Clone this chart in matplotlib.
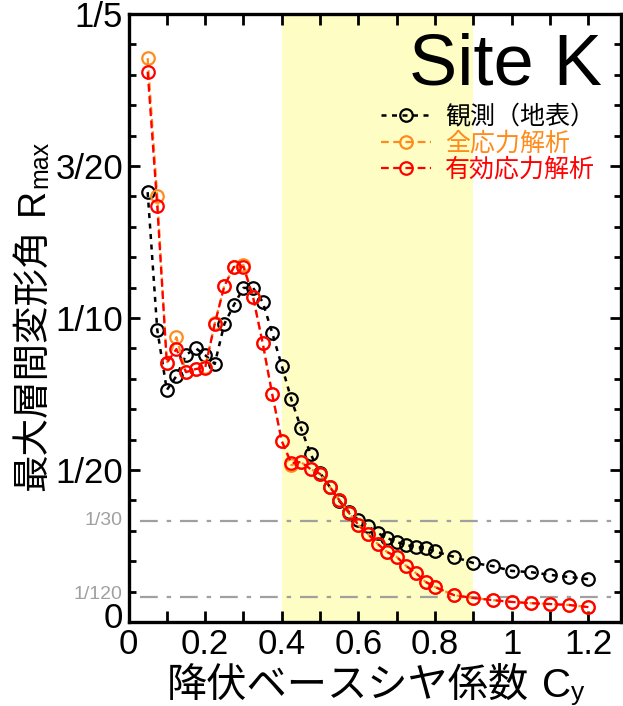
import matplotlib
matplotlib.use("Agg")
import matplotlib.pyplot as plt
import numpy as np
from matplotlib.ticker import MultipleLocator, FixedLocator, FixedFormatter
from matplotlib.lines import Line2D

plt.rcParams['font.family'] = ['Liberation Sans', 'Noto Sans CJK JP', 'DejaVu Sans']

# ---- data ----
cy = [0.05, 0.075, 0.1, 0.125, 0.15, 0.175, 0.2, 0.225, 0.25, 0.275, 0.3, 0.325,
      0.35, 0.375, 0.4, 0.425, 0.45, 0.475, 0.5, 0.525, 0.55, 0.575, 0.6, 0.625,
      0.65, 0.675, 0.7, 0.725, 0.75, 0.775, 0.8, 0.85, 0.9, 0.95, 1.0, 1.05, 1.1,
      1.15, 1.2]
observed = [0.1414, 0.0962, 0.0763, 0.0809, 0.0878, 0.0901, 0.0878, 0.0849, 0.0980,
            0.1043, 0.1099, 0.1099, 0.1053, 0.0951, 0.0842, 0.0732, 0.0638, 0.0553,
            0.0490, 0.0445, 0.0398, 0.0362, 0.0336, 0.0316, 0.0293, 0.0276, 0.0263,
            0.0253, 0.0247, 0.0243, 0.0232, 0.0214, 0.0194, 0.0184, 0.0168, 0.0164,
            0.0155, 0.0148, 0.0141]
total_stress = [0.1855, 0.1400, 0.0852, 0.0937, 0.0822, 0.0832, 0.0838, 0.0982, 0.1105,
                0.1168, 0.1174, 0.1069, 0.0918, 0.0749, 0.0595, 0.0516, 0.0526, 0.0503,
                0.0487, 0.0445, 0.0401, 0.0359, 0.0319, 0.0289, 0.0257, 0.0230, 0.0214,
                0.0184, 0.0161, 0.0132, 0.0115, 0.0088, 0.0079, 0.0072, 0.0066, 0.0062,
                0.0059, 0.0056, 0.0049]
effective_stress = [0.1810, 0.1368, 0.0852, 0.0898, 0.0822, 0.0832, 0.0836, 0.0980, 0.1105,
                    0.1168, 0.1168, 0.1069, 0.0918, 0.0749, 0.0595, 0.0523, 0.0526, 0.0503,
                    0.0487, 0.0445, 0.0401, 0.0359, 0.0319, 0.0289, 0.0257, 0.0230, 0.0214,
                    0.0184, 0.0161, 0.0132, 0.0115, 0.0088, 0.0079, 0.0072, 0.0066, 0.0062,
                    0.0059, 0.0056, 0.0049]
series_labels = ['観測（地表）', '全応力解析', '有効応力解析']
ytick_vals = [0, 0.05, 0.10, 0.15, 0.20]
ytick_labels = ['', '1/20', '1/10', '3/20', '1/5']
xtick_vals = [0, 0.2, 0.4, 0.6, 0.8, 1.0, 1.2]
xtick_labels = ['0', '0.2', '0.4', '0.6', '0.8', '1', '1.2']
ref_vals = [1/30, 1/120]
ref_labels = ['1/30', '1/120']
band = (0.4, 0.9)
xlabel_parts = ['降伏ベースシヤ係数', 'C', 'y']
ylabel_parts = ['最大層間変形角', 'R', 'max']

W, H = 623, 706
fig = plt.figure(figsize=(W/100, H/100), dpi=100)
ax = fig.add_axes([128.5/W, 1-622/H, (621-128.5)/W, (622-14)/H])

ax.axvspan(band[0], band[1], color='#FDFDC4', zorder=0, lw=0)

for v in ref_vals:
    ax.plot([0.03, 1.285], [v, v], color='#A0A0A0', lw=1.6,
            dashes=(8, 4, 2, 4), zorder=1)

ms = 9
ax.plot(cy, observed, ls=(0, (2, 2.2)), color='black', lw=1.8, marker='o',
        mfc='none', mec='black', mew=1.6, ms=ms, zorder=3)
ax.plot(cy, total_stress, ls=(0, (3.5, 2)), color='#FF8C1A', lw=1.6, marker='o',
        mfc='none', mec='#FF8C1A', mew=1.6, ms=ms, zorder=4)
ax.plot(cy, effective_stress, ls=(0, (3.5, 2)), color='#FF0000', lw=1.6, marker='o',
        mfc='none', mec='#FF0000', mew=1.6, ms=ms, zorder=5)

ax.set_xlim(0, 1.285)
ax.set_ylim(0, 0.2)

ax.xaxis.set_major_locator(FixedLocator(xtick_vals))
ax.xaxis.set_major_formatter(FixedFormatter(xtick_labels))
ax.xaxis.set_minor_locator(MultipleLocator(0.1))
ax.yaxis.set_major_locator(FixedLocator(ytick_vals))
ax.yaxis.set_major_formatter(FixedFormatter(ytick_labels))
ax.yaxis.set_minor_locator(MultipleLocator(0.01))

ax.tick_params(which='both', direction='in', top=True, right=True, width=2.0)
ax.tick_params(which='major', length=8, labelsize=25, pad=4)
ax.tick_params(axis='x', which='minor', length=8)
ax.tick_params(axis='y', which='minor', length=5)
for s in ax.spines.values():
    s.set_linewidth(2.4)

# zero label on y placed slightly above the axis, as in the reference
ax.text(-0.012, 0.0012, '0', transform=ax.get_yaxis_transform(), ha='right',
        va='center', fontsize=25)

ref_shift = [0.0, 0.0006]
for v, lab, sh in zip(ref_vals, ref_labels, ref_shift):
    ax.text(-0.012, v + sh, lab, transform=ax.get_yaxis_transform(), ha='right',
            va='center', fontsize=14, color='#A0A0A0')

ax.text(0.962, 0.97, 'Site K', transform=ax.transAxes, ha='right', va='top',
        fontsize=52)

handles = [
    Line2D([], [], ls=(0, (2, 2.2)), color='black', lw=1.8, marker='o', mfc='none', mew=1.6, ms=ms),
    Line2D([], [], ls=(0, (3.5, 2)), color='#FF8C1A', lw=1.6, marker='o', mfc='none', mew=1.6, ms=ms),
    Line2D([], [], ls=(0, (3.5, 2)), color='#FF0000', lw=1.6, marker='o', mfc='none', mew=1.6, ms=ms),
]
leg = ax.legend(handles, series_labels, loc='upper left',
                bbox_to_anchor=(381/W, 1-105/H), bbox_transform=fig.transFigure,
                frameon=False, fontsize=18, handlelength=2.0, handletextpad=0.55,
                labelspacing=0.1, borderaxespad=0, borderpad=0)
for t, c in zip(leg.get_texts(), ['black', '#FF8C1A', '#FF0000']):
    t.set_color(c)

# ---- composite axis labels (CJK + Latin with subscript) ----
fig.canvas.draw()
r = fig.canvas.get_renderer()

# x label
fx_main, fx_sub = 29, 19
jx = fig.text(0, 0, xlabel_parts[0], fontsize=fx_main, ha='left', va='baseline')
cx_ = fig.text(0, 0, xlabel_parts[1], fontsize=fx_main, ha='left', va='baseline')
sx = fig.text(0, 0, xlabel_parts[2], fontsize=fx_sub, ha='left', va='baseline')
w1 = jx.get_window_extent(r).width
w2 = cx_.get_window_extent(r).width
w3 = sx.get_window_extent(r).width
gap = 13
total = w1 + gap + w2 + w3
x0 = 375.5 - total/2
base = 9
jx.set_position((x0/W, base/H))
cx_.set_position(((x0 + w1 + gap)/W, base/H))
sx.set_position(((x0 + w1 + gap + w2)/W, (base - 3)/H))

# y label (rotated)
fy_main, fy_sub = 27, 18
jy = fig.text(0, 0, ylabel_parts[0], fontsize=fy_main, ha='left', va='baseline',
              rotation=90, rotation_mode='anchor')
ry = fig.text(0, 0, ylabel_parts[1], fontsize=fy_main, ha='left', va='baseline',
              rotation=90, rotation_mode='anchor')
sy = fig.text(0, 0, ylabel_parts[2], fontsize=fy_sub, ha='left', va='baseline',
              rotation=90, rotation_mode='anchor')
h1 = jy.get_window_extent(r).height
h2 = ry.get_window_extent(r).height
h3 = sy.get_window_extent(r).height
gapy = 14
totaly = h1 + gapy + h2 + h3
yc = 706 - 316
y0 = yc - totaly/2
bx = 43
jy.set_position((bx/W, y0/H))
ry.set_position((bx/W, (y0 + h1 + gapy)/H))
sy.set_position(((bx + 4)/W, (y0 + h1 + gapy + h2)/H))

fig.savefig('out.png', dpi=100)
